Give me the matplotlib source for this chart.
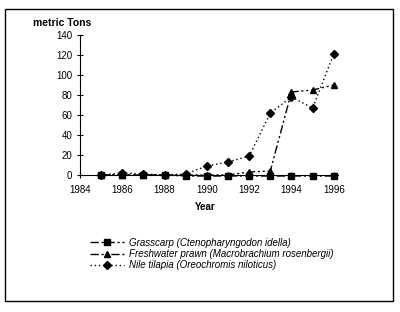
import numpy as np
import matplotlib
matplotlib.use("Agg")
import matplotlib.pyplot as plt
from matplotlib.patches import Rectangle

plt.rcParams['font.family'] = ['Liberation Sans', 'DejaVu Sans']

years = [1985, 1986, 1987, 1988, 1989, 1990, 1991, 1992, 1993, 1994, 1995, 1996]
grasscarp = [0, 0, 0, 0, -1, -1, -1, -1, -1, -1, -1, -1]
prawn = [0, 0, 0, 0, 0, 0, 0, 3, 4, 83, 85, 90]
tilapia = [0, 2, 1, 0, 1, 9, 13, 19, 62, 78, 67, 121]

labels = ["Grasscarp (Ctenopharyngodon idella)",
          "Freshwater prawn (Macrobrachium rosenbergii)",
          "Nile tilapia (Oreochromis niloticus)"]

fig = plt.figure(figsize=(4, 3.12), dpi=100)
ax = fig.add_axes([0.2, 0.4231, 0.645, 0.4808])

ax.plot(years, grasscarp, color='black', lw=1, ls=(0, (6, 2, 1.5, 2)),
        marker='s', ms=5, label=labels[0])
ax.plot(years, prawn, color='black', lw=1, ls=(0, (6, 2, 1.5, 2, 1.5, 2)),
        marker='^', ms=5, label=labels[1])
ax.plot(years, tilapia, color='black', lw=1, ls=(0, (1, 2)),
        marker='D', ms=4, label=labels[2])

ax.set_xlim(1984, 1996.2)
ax.set_ylim(-5, 145)
ax.set_xticks(np.arange(1984, 1997, 2))
ax.set_yticks(np.arange(0, 141, 20))
ax.spines['top'].set_visible(False)
ax.spines['right'].set_visible(False)
ax.spines['bottom'].set_position(('data', 0))
ax.spines['left'].set_bounds(0, 140)
ax.tick_params(direction='inout', length=4, width=0.8, labelsize=7)
ax.tick_params(axis='x', pad=5)

fig.text(0.083, 1 - 23 / 312, "metric Tons", fontsize=7.5, fontweight='bold',
         ha='left', va='center')
fig.text(0.512, 1 - 207 / 312, "Year", fontsize=7, fontweight='bold',
         ha='center', va='center')

fig.legend(loc='center', bbox_to_anchor=(0.53, 0.186), frameon=False,
           prop={'style': 'italic', 'size': 7}, labelspacing=0.15,
           handlelength=3.5, handletextpad=0.5)

fig.patches.append(Rectangle((0.0125, 0.035), 0.97, 0.936, transform=fig.transFigure,
                             fill=False, edgecolor='black', lw=1))

fig.savefig("out.png", dpi=100)
